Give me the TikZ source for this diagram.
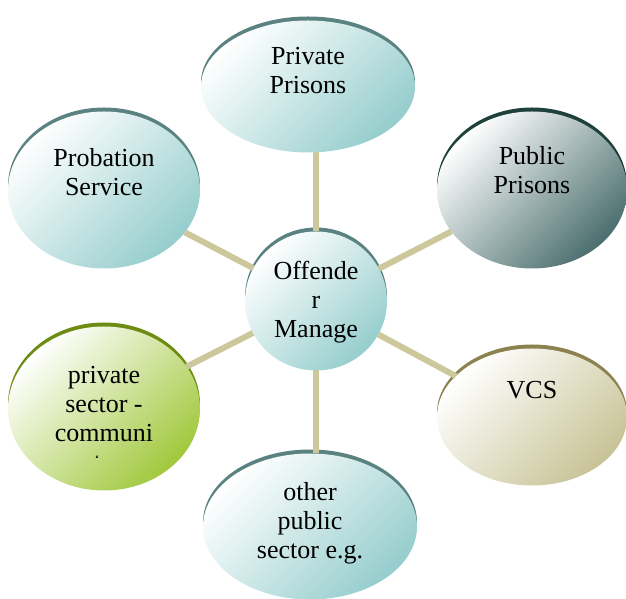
\documentclass[tikz,border=0pt]{standalone}
\usepackage{fontspec}
\setmainfont{Liberation Serif}
\usetikzlibrary{shapes.geometric}
\definecolor{tealbub}{RGB}{150,205,205}
\definecolor{tealarc}{RGB}{90,130,128}
\definecolor{darkbub}{RGB}{75,110,110}
\definecolor{darkarc}{RGB}{30,65,60}
\definecolor{greenbub}{RGB}{160,200,60}
\definecolor{greenarc}{RGB}{110,140,20}
\definecolor{khakibub}{RGB}{200,195,150}
\definecolor{khakiarc}{RGB}{140,130,80}
\definecolor{spoke}{RGB}{205,200,155}
\begin{document}
\begin{tikzpicture}[x=1pt,y=1pt,
		bubble/.style 2 args={ellipse,draw=none,inner sep=0pt,outer sep=0pt,top color=white,middle color=#1!18,bottom color=#1,shading angle=45,preaction={fill=#2,transform canvas={yshift=4pt}}},
		txt/.style={font=\fontsize{26}{29}\selectfont,align=center,inner sep=0pt},
		link/.style={draw=spoke,line width=6pt}]
				\useasboundingbox (0,0) rectangle (626,599);
				\node[bubble={tealbub}{tealarc},minimum width=214,minimum height=132] (pp) at (308,512.5) {};
				\node[bubble={tealbub}{tealarc},minimum width=192,minimum height=157] (ps) at (104,409) {};
				\node[bubble={darkbub}{darkarc},minimum width=190,minimum height=157] (pub) at (532,409) {};
				\node[bubble={tealbub}{tealarc},minimum width=142,minimum height=139] (om) at (316,298) {};
				\node[bubble={greenbub}{greenarc},minimum width=192,minimum height=164] (prv) at (104,190.5) {};
				\node[bubble={khakibub}{khakiarc},minimum width=190,minimum height=137] (vcs) at (532,182) {};
				\node[bubble={tealbub}{tealarc},minimum width=214,minimum height=146] (oth) at (310,72.5) {};
				\draw[link] (om.north) -- (om.north |- pp.south);
				\draw[link] (om.south) -- (om.south |- oth.north);
				\draw[link] (om) -- (ps) (om) -- (pub) (om) -- (prv) (om) -- (vcs);
				\node[txt] (pptxt) at (308,528) {Private\\Prisons};
				\node[txt] (pstxt) at (104,427) {Probation\\Service};
				\node[txt] (pubtxt) at (532,429) {Public\\Prisons};
				\node[txt] (omtxt) at (316,297) {Offende\\r\\Manage};
				\node[txt] (vcstxt) at (532,209) {VCS};
				\node[txt] (othtxt) at (310,76) {other\\public\\sector e.g.};
				\begin{scope}
					\clip (0,141) rectangle (626,599);
					\node[txt] (prvtxt) at (104,178) {private\\sector -\\communi\\ty};
				\end{scope}
			\end{tikzpicture}
\end{document}
